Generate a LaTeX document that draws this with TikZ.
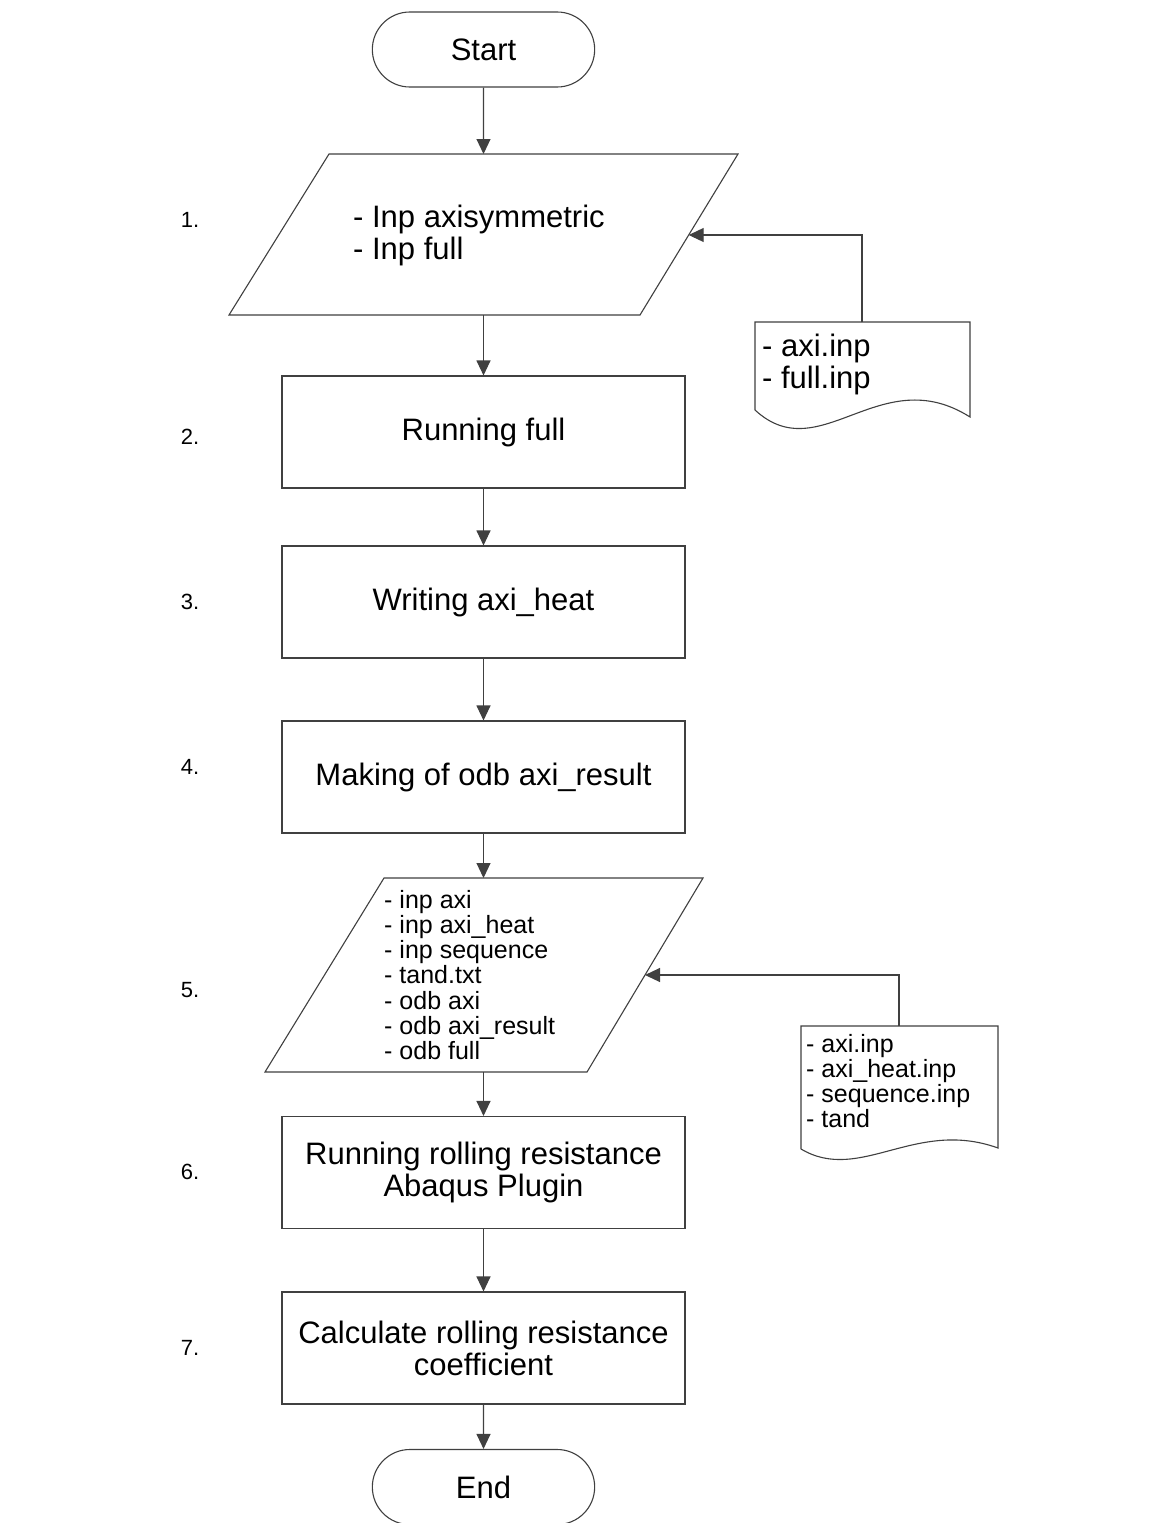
\documentclass[tikz,border=0pt]{standalone}
\usepackage{fontspec}
\setmainfont{Liberation Sans}
\usetikzlibrary{shapes.misc,arrows.meta}
\begin{document}
\begin{tikzpicture}[x=1pt,y=-1pt,
  line/.style={draw=black!75, line width=1.1pt},
  arr/.style={draw=black!75, line width=1.1pt, -{Triangle[length=15pt,width=14pt]}},
  big/.style={font=\fontsize{31}{32}\selectfont},
  small/.style={font=\fontsize{25}{25.3}\selectfont},
  term/.style={rounded rectangle, line, minimum width=223pt, minimum height=75pt, big},
  proc/.style={rectangle, line, minimum width=403pt, minimum height=112pt, align=center, big},
  num/.style={font=\fontsize{22}{24}\selectfont},
  txt/.style={anchor=west, align=left, inner sep=0pt}]
\useasboundingbox (0,0) rectangle (1165,1523);
\fill[white] (0,0) rectangle (1165,1523);

% terminals and process boxes
\node[term, minimum width=229pt] (start) at (483.5,49.5) {Start};
\node[proc] (b2) at (483.5,432) {Running full};
\node[proc] (b3) at (483.5,602) {Writing axi\_heat};
\node[proc] (b4) at (483.5,777) {Making of odb axi\_result};
\node[proc] (b6) at (483.5,1172.5) {Running rolling resistance\\Abaqus Plugin};
\node[proc] (b7) at (483.5,1348) {Calculate rolling resistance\\coefficient};
\node[term, minimum width=229pt] (end) at (483.5,1487) {End};

% parallelogram 1
\draw[line] (329,154) -- (738,154) -- (640,315) -- (229,315) -- cycle;
\coordinate (p1top) at (483.5,154);
\coordinate (p1bot) at (483.5,315);
\coordinate (p1r) at (688.7,235);
\node[txt, big] (p1text) at (353,235.5) {- Inp axisymmetric\\- Inp full};

% parallelogram 5
\draw[line] (384,878) -- (703,878) -- (587,1072) -- (265,1072) -- cycle;
\coordinate (p5top) at (483.5,878);
\coordinate (p5bot) at (483.5,1072);
\coordinate (p5r) at (645,975);
\node[txt, small] (p5text) at (384,975) {- inp axi\\- inp axi\_heat\\- inp sequence\\- tand.txt\\- odb axi\\- odb axi\_result\\- odb full};

% document 1
\draw[line] (755,410) -- (755,322) -- (970,322) -- (970,417)
  .. controls (880,360) and (820,470) .. (755,410);
\coordinate (d1top) at (862,322);
\node[txt, big] (d1text) at (762,364.5) {- axi.inp\\- full.inp};

% document 2
\draw[line] (801,1149) -- (801,1026) -- (998,1026) -- (998,1148)
  .. controls (915,1118) and (860,1184) .. (801,1149);
\coordinate (d2top) at (899,1026);
\node[txt, small, font=\fontsize{25}{25}\selectfont] (d2text) at (806,1081.5) {- axi.inp\\- axi\_heat.inp\\- sequence.inp\\- tand};

% step numbers
\node[num] (n1) at (190,220) {1.};
\node[num] (n2) at (190,437) {2.};
\node[num] (n3) at (190,602) {3.};
\node[num] (n4) at (190,767) {4.};
\node[num] (n5) at (190,990) {5.};
\node[num] (n6) at (190,1172) {6.};
\node[num] (n7) at (190,1348) {7.};

% connectors
\draw[arr] (start) -- (p1top);
\draw[arr] (p1bot) -- (b2);
\draw[arr] (b2) -- (b3);
\draw[arr] (b3) -- (b4);
\draw[arr] (b4) -- (p5top);
\draw[arr] (p5bot) -- (b6);
\draw[arr] (b6) -- (b7);
\draw[arr] (b7) -- (end);
\draw[arr] (d1top) |- (p1r);
\draw[arr] (d2top) |- (p5r);
\end{tikzpicture}
\end{document}
